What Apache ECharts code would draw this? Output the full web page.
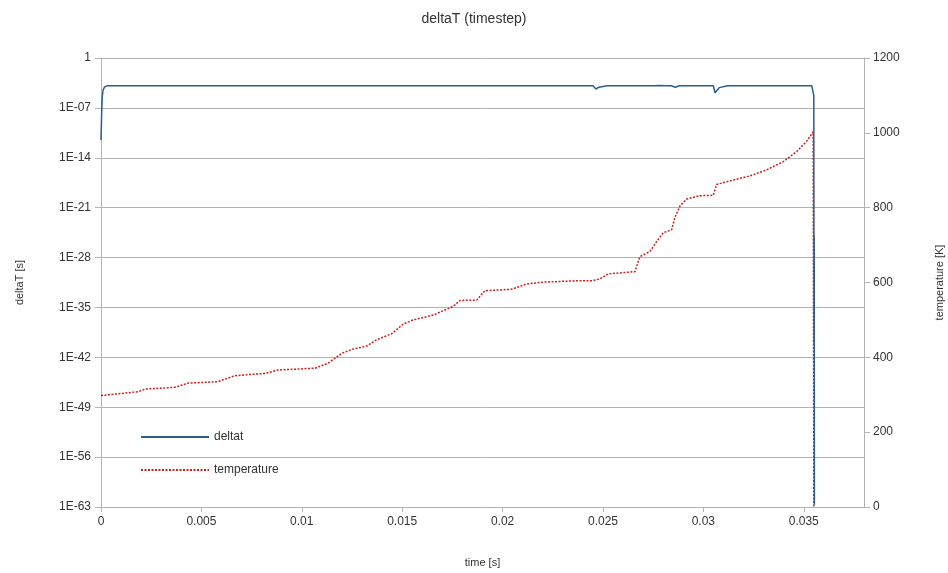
<!DOCTYPE html>
<html>
<head>
<meta charset="utf-8">
<script src="https://cdn.jsdelivr.net/npm/echarts@6/dist/echarts.min.js"></script>
<style>html,body{margin:0;padding:0;background:#fff}#c{width:948px;height:573px}</style>
</head>
<body>
<div id="c"></div>
<script>
// deltat series (time in s, deltaT in s)
var dtTime = [0, 0.00003, 0.00006, 0.0001, 0.00018, 0.0003, 0.005, 0.01, 0.015, 0.02, 0.0245, 0.02465, 0.0248, 0.0252, 0.0275, 0.0278, 0.0281, 0.0284, 0.0286, 0.0288, 0.0305, 0.03058, 0.0308, 0.0312, 0.0354, 0.03549, 0.0355, 0.03551, 0.03552, 0.03553];
var dtValues = [3e-12, 1e-8, 3e-6, 3e-5, 9e-5, 1.25e-4, 1.3e-4, 1.3e-4, 1.25e-4, 1.25e-4, 1.25e-4, 4.5e-5, 8e-5, 1.25e-4, 1.25e-4, 1.4e-4, 1.25e-4, 1.25e-4, 8e-5, 1.25e-4, 1.25e-4, 1.35e-5, 7e-5, 1.25e-4, 1.25e-4, 1.25e-4, 5e-6, 1e-40, 1e-25, 2e-63];
// temperature series (time in s, K)
var tempTime = [0, 0.00184, 0.00219, 0.00369, 0.00433, 0.00583, 0.00667, 0.00817, 0.00881, 0.01066, 0.0113, 0.012, 0.01255, 0.01323, 0.01373, 0.01448, 0.01505, 0.01555, 0.01655, 0.01754, 0.01788, 0.01871, 0.01912, 0.02045, 0.0212, 0.02203, 0.02385, 0.02452, 0.02485, 0.02526, 0.02659, 0.02684, 0.02734, 0.02767, 0.028, 0.02842, 0.02859, 0.02884, 0.02917, 0.02983, 0.03049, 0.03066, 0.03149, 0.03232, 0.03315, 0.03398, 0.03465, 0.03514, 0.03547, 0.0355];
var tempValues = [298, 308, 315, 320, 331, 335, 351, 357, 366, 371, 384, 411, 422, 430, 447, 463, 489, 500, 513, 536, 552, 553, 578, 582, 596, 601, 605, 605, 610, 623, 629, 669, 683, 709, 733, 741, 775, 805, 823, 832, 833, 862, 874, 885, 901, 923, 950, 977, 1003, 0];
// axis ticks
var xTickInterval = 0.005;
var leftExpInterval = 7; // decades
var rightTickInterval = 200;

var FONT = '"Liberation Sans", Arial, sans-serif';
var TXT = '#333333';
var AX = '#b3b3b3';

var chart = echarts.init(document.getElementById('c'), null, {renderer: 'canvas'});
var dtData = dtTime.map(function (t, i) { return [t, Math.log10(dtValues[i])]; });
var tData = tempTime.map(function (t, i) { return [t, tempValues[i]]; });

chart.setOption({
  animation: false,
  backgroundColor: '#ffffff',
  title: {
    text: 'deltaT (timestep)', left: 'center', top: 7,
    textStyle: {fontFamily: FONT, fontSize: 14, fontWeight: 'normal', color: TXT}
  },
  grid: {left: 101, right: 84, top: 58, bottom: 66, containLabel: false, outerBoundsMode: 'none'},
  legend: {
    orient: 'vertical', left: 135, top: 426,
    itemWidth: 68, itemHeight: 14, itemGap: 21,
    itemStyle: {opacity: 0},
    textStyle: {fontFamily: FONT, fontSize: 12, color: TXT},
    data: ['deltat', 'temperature']
  },
  xAxis: {
    type: 'value', min: 0, max: 0.038, interval: xTickInterval,
    name: 'time [s]', nameLocation: 'middle', nameGap: 50,
    nameTextStyle: {fontFamily: FONT, fontSize: 11, color: TXT},
    axisLine: {show: true, onZero: false, lineStyle: {color: AX}},
    axisTick: {show: true, length: 5, lineStyle: {color: AX}},
    axisLabel: {
      margin: 9, fontFamily: FONT, fontSize: 12, color: TXT, showMaxLabel: false,
      formatter: function (v) { return String(parseFloat(v.toFixed(4))); }
    },
    splitLine: {show: false}
  },
  yAxis: [{
    type: 'value', min: -63, max: 0, interval: leftExpInterval, position: 'left',
    name: 'deltaT [s]', nameLocation: 'middle', nameGap: 76, nameRotate: 90,
    nameTextStyle: {fontFamily: FONT, fontSize: 11, color: TXT},
    axisLine: {show: true, lineStyle: {color: AX}},
    axisTick: {show: true, length: 6, lineStyle: {color: AX}},
    axisLabel: {
      margin: 10, fontFamily: FONT, fontSize: 12, color: TXT,
      formatter: function (v) {
        var e = Math.round(v);
        if (e === 0) return '1';
        var a = -e;
        return '1E-' + (a < 10 ? '0' + a : String(a));
      }
    },
    splitLine: {show: true, lineStyle: {color: AX, width: 1}}
  }, {
    type: 'value', min: 0, max: 1200, interval: rightTickInterval, position: 'right',
    name: 'temperature [K]', nameLocation: 'middle', nameGap: 70, nameRotate: 90,
    nameTextStyle: {fontFamily: FONT, fontSize: 11, color: TXT},
    axisLine: {show: true, lineStyle: {color: AX}},
    axisTick: {show: true, length: 6, lineStyle: {color: AX}},
    axisLabel: {
      margin: 9, fontFamily: FONT, fontSize: 12, color: TXT,
      formatter: function (v) { return String(v); }
    },
    splitLine: {show: false}
  }],
  series: [{
    name: 'deltat', type: 'line', yAxisIndex: 0, data: dtData,
    showSymbol: false, symbol: 'none',
    lineStyle: {color: '#2a5d8f', width: 1.5},
    itemStyle: {color: '#2a5d8f'},
    z: 3
  }, {
    name: 'temperature', type: 'line', yAxisIndex: 1, data: tData,
    showSymbol: false, symbol: 'none',
    lineStyle: {color: '#c9211e', width: 1.5, type: [2, 1.5]},
    itemStyle: {color: '#c9211e'},
    z: 2
  }]
});
</script>
</body>
</html>
